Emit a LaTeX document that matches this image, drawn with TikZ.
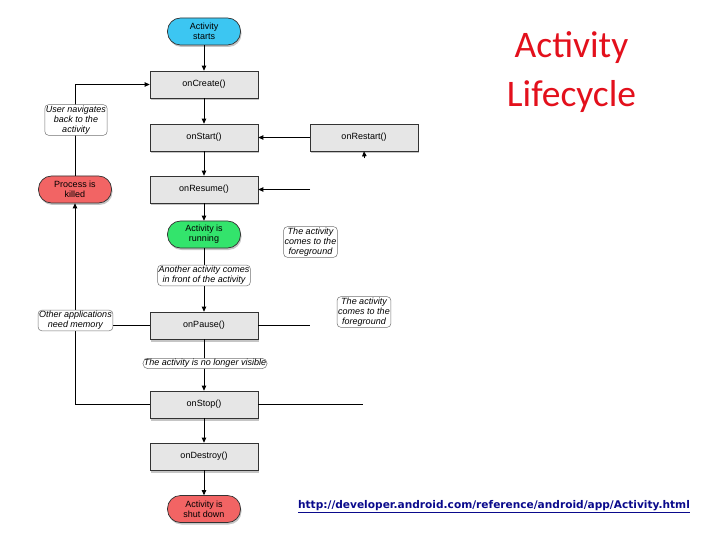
\documentclass[tikz,border=0pt]{standalone}
\usepackage{fontspec}
\setmainfont{Liberation Sans}
\newfontfamily\titlefont{Carlito}
\newfontfamily\urlfont{DejaVu Sans}
\usetikzlibrary{shadows,arrows.meta}
\definecolor{boxgray}{HTML}{E6E6E6}
\definecolor{startblue}{HTML}{3CC6F2}
\definecolor{rungreen}{HTML}{33E46C}
\definecolor{killred}{HTML}{F26464}
\definecolor{titlered}{HTML}{E3101C}
\definecolor{urlblue}{HTML}{0A0A8C}
\tikzset{
  lifebox/.style={draw=black!80, line width=0.7pt, fill=boxgray, minimum width=108pt, minimum height=27pt,
    inner sep=0pt, font=\fontsize{9}{10}\selectfont,
    drop shadow={opacity=0.45, shadow xshift=1pt, shadow yshift=-2.5pt}},
  pill/.style={draw=black!80, line width=0.7pt, rounded corners=13pt, minimum width=73pt, minimum height=27pt,
    inner sep=0pt, align=center, font=\fontsize{9}{10}\selectfont,
    drop shadow={opacity=0.45, shadow xshift=1pt, shadow yshift=-2pt}},
  note/.style={draw=black!55, line width=0.5pt, fill=white, rounded corners=4pt, inner sep=1.2pt,
    align=center, font=\fontsize{9}{10}\selectfont\itshape},
  conn/.style={line width=0.8pt, black},
  arr/.style={conn, -{Triangle[length=5pt,width=4.5pt]}},
}
\begin{document}
\begin{tikzpicture}[x=1pt,y=-1pt]
\useasboundingbox[fill=white] (0,0) rectangle (720,540);

% main column
\node[pill, fill=startblue] (start) at (204,31.5) {Activity\\starts};
\node[lifebox] (create) at (204,84.5) {onCreate()};
\node[lifebox] (onstart) at (204,137.5) {onStart()};
\node[lifebox] (restart) at (364,137.5) {onRestart()};
\node[lifebox] (resume) at (204,189.5) {onResume()};
\node[pill, fill=rungreen] (running) at (204,234.5) {Activity is\\running};
\node[lifebox] (pause) at (204,325.5) {onPause()};
\node[lifebox] (stop) at (204,404.5) {onStop()};
\node[lifebox] (destroy) at (204,456.5) {onDestroy()};
\node[pill, fill=killred] (shutdown) at (204,509) {Activity is\\shut down};
\node[pill, fill=killred] (killed) at (75,189.5) {Process is\\killed};

% free ends
\coordinate (resumein) at (310,189.5);
\coordinate (restartin) at (364.5,158);
\coordinate (pauseout) at (310,325.5);
\coordinate (stopout) at (363,404.5);
\coordinate (leftbus) at (75,325.5);

% connectors
\draw[arr] (start) -- (create);
\draw[arr] (create) -- (onstart);
\draw[arr] (onstart) -- (resume);
\draw[arr] (resume) -- (running);
\draw[arr] (running) -- (pause);
\draw[arr] (pause) -- (stop);
\draw[arr] (stop) -- (destroy);
\draw[arr] (destroy) -- (shutdown);
\draw[arr] (restart) -- (onstart);
\draw[arr] (resumein) -- (resume);
\draw[arr] (restartin) -- (restart.south);
\draw[conn] (pause) -- (pauseout);
\draw[conn] (stop) -- (stopout);
\draw[conn] (pause) -- (leftbus);
\draw[arr] (stop.west) -| (killed.south);
\draw[arr] (killed.north) |- (create.west);

% notes
\node[note] (usernav) at (76,120) {User navigates\\back to the\\activity};
\node[note] (othermem) at (75.5,320.5) {Other applications\\need memory};
\node[note] (another) at (204,275.5) {Another activity comes\\in front of the activity};
\node[note, rounded corners=5pt, inner sep=1pt] (novisible) at (205,363.5) {The activity is no longer visible};
\node[note] (fg1) at (310.5,242) {The activity\\comes to the\\foreground};
\node[note] (fg2) at (364,312) {The activity\\comes to the\\foreground};

% title and source
\node[anchor=base, text=titlered, font=\titlefont\fontsize{37.5}{46}\selectfont] (title1) at (571.5,58) {Activity};
\node[anchor=base, text=titlered, font=\titlefont\fontsize{37.5}{46}\selectfont] (title2) at (571.5,107) {Lifecycle};
\node[anchor=base, text=urlblue, font=\urlfont\bfseries\fontsize{10.6}{12}\selectfont] (url) at (494,508.5)
  {\underline{http://developer.android.com/reference/android/app/Activity.html}};
\end{tikzpicture}
\end{document}
